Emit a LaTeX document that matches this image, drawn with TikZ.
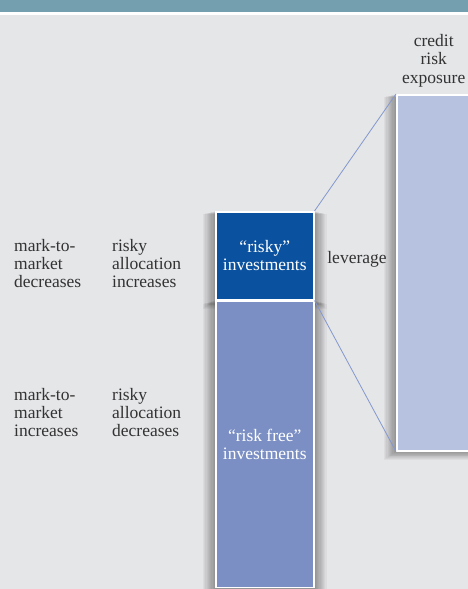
\documentclass[tikz,border=0pt]{standalone}
\usepackage{fontspec}
\setmainfont{Liberation Serif}
\usetikzlibrary{calc,positioning,backgrounds}
\definecolor{bannerteal}{HTML}{739FAF}
\definecolor{panelgray}{HTML}{E5E6E8}
\definecolor{riskyblue}{HTML}{0A51A0}
\definecolor{freeblue}{HTML}{7B8FC4}
\definecolor{exposureblue}{HTML}{B7C1E0}
\definecolor{levline}{HTML}{8497CF}
\definecolor{textgray}{HTML}{333333}
\newcommand{\softshadow}[1]{
	\foreach \d in {1,...,10}
		\fill[black, opacity=0.04] ($(#1.south west)+(-1.2*\d,0.8*\d)$) rectangle ($(#1.north east)+(1.2*\d,0.3*\d)$);
}
\tikzset{
	txt/.style={font=\fontsize{17.5}{18.3}\selectfont, text=textgray, inner sep=0pt, align=left},
	invbox/.style={draw=white, line width=1.5pt, font=\fontsize{17.5}{18.3}\selectfont, text=white, align=center, inner sep=0pt, minimum width=98pt},
	levlink/.style={levline, line width=0.8pt}
}

\begin{document}
\begin{tikzpicture}[x=1pt,y=-1pt]
	\useasboundingbox (0,0) rectangle (468,589);

	% the two investment blocks
	\node[invbox, fill=riskyblue, minimum height=88pt, anchor=north west] (risky) at (215,211) {“risky”\\investments};
	\node[invbox, fill=freeblue, minimum height=286pt, anchor=north] (riskfree) at (risky.south) {“risk free”\\investments};

	% exposure block, runs off the right edge
	\node[draw=white, line width=1.5pt, fill=exposureblue, inner sep=0pt, minimum width=74pt, minimum height=356pt, anchor=north west] (exposure) at (396,94) {};
	\node[txt, align=center, anchor=south, above=7pt of exposure.north] (exptitle) {credit\\risk\\exposure};

	\node[txt] (leverage) at (357,259) {leverage};

	\node[txt, anchor=north west] (mtmdown) at (14,239) {mark-to-\\market\\decreases};
	\node[txt, anchor=north west] (allocup) at (112,239) {risky\\allocation\\increases};
	\node[txt, anchor=north west] (mtmup) at (14,388) {mark-to-\\market\\increases};
	\node[txt, anchor=north west] (allocdown) at (112,388) {risky\\allocation\\decreases};

	\draw[levlink] (risky.north east) -- (exposure.north west);
	\draw[levlink] (risky.south east) -- (exposure.south west);

	\begin{scope}[on background layer]
		\fill[panelgray] (0,15) rectangle (468,589);
		\fill[bannerteal] (0,0) rectangle (468,12);
		\softshadow{risky}
		\softshadow{riskfree}
		\softshadow{exposure}
	\end{scope}
\end{tikzpicture}
\end{document}
